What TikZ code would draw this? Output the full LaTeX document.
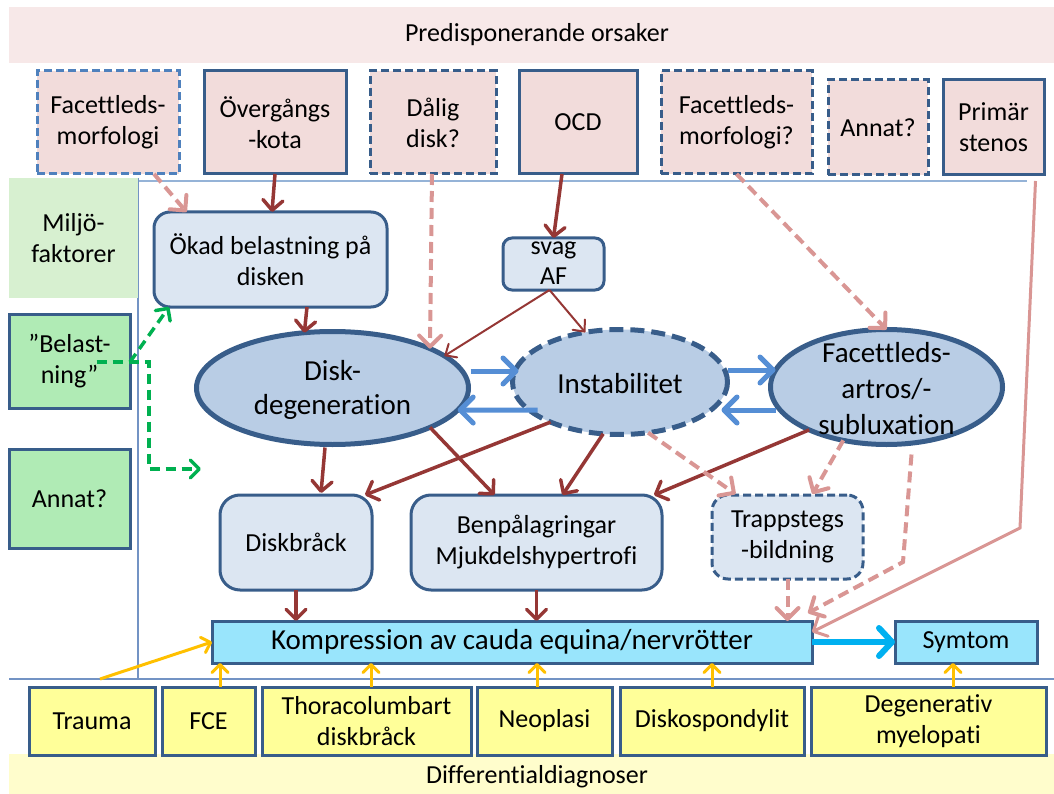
\documentclass[tikz,border=0pt]{standalone}
\usepackage{fontspec}
\setmainfont{Carlito}[Ligatures=NoCommon]
\usetikzlibrary{arrows.meta,shapes.geometric,calc}

\definecolor{bord}{HTML}{385D8A}
\definecolor{bordlt}{HTML}{4F81BD}
\definecolor{pinkband}{HTML}{F7E8E8}
\definecolor{pinkbox}{HTML}{F2DCDB}
\definecolor{greenlt}{HTML}{D7F0D0}
\definecolor{greenbox}{HTML}{B0EBB5}
\definecolor{bluebox}{HTML}{DCE6F2}
\definecolor{ellfill}{HTML}{B9CDE5}
\definecolor{cyanbox}{HTML}{99E5FC}
\definecolor{yelbox}{HTML}{FFFF99}
\definecolor{yelband}{HTML}{FFFDCC}
\definecolor{darkred}{HTML}{953735}
\definecolor{pinkarr}{HTML}{D99694}
\definecolor{bluearr}{HTML}{558ED5}
\definecolor{greenarr}{HTML}{00B050}
\definecolor{yelarr}{HTML}{FFC000}
\definecolor{cyanarr}{HTML}{00B0F0}
\definecolor{thinline}{HTML}{95B3D7}
\definecolor{thinline2}{HTML}{7393C4}

\tikzset{
  every node/.style={font=\fontsize{26}{31}\selectfont, align=center, inner sep=0pt, outer sep=0pt},
  bigtxt/.style={font=\fontsize{29}{35}\selectfont},
  topbox/.style={draw=bord, fill=pinkbox, line width=3pt},
  topdash/.style={topbox, dash pattern=on 8pt off 4pt},
  greenbx/.style={draw=bord, fill=greenbox, line width=3pt},
  rbox/.style={draw=bord, fill=bluebox, line width=3pt, rounded corners=16pt},
  ellbox/.style={ellipse, draw=bord, fill=ellfill, line width=5pt},
  cbox/.style={draw=bord, fill=cyanbox, line width=3pt},
  ybox/.style={draw=bord, fill=yelbox, line width=3pt},
  redarr/.style={draw=darkred, line width=3.5pt, -{Straight Barb[round,length=10pt,width=20pt]}},
  redthin/.style={draw=darkred, line width=2pt, -{Straight Barb[round,length=9pt,width=16pt]}},
  pinkdash/.style={draw=pinkarr, line width=4pt, dash pattern=on 11pt off 6pt, -{Straight Barb[round,length=11pt,width=22pt]}},
  pinksolid/.style={draw=pinkarr, line width=3pt, -{Straight Barb[round,length=11pt,width=22pt]}},
  bluearrow/.style={draw=bluearr, line width=5pt, -{Straight Barb[round,length=13pt,width=26pt]}},
  greendash/.style={draw=greenarr, line width=3.5pt, dash pattern=on 10pt off 6pt, -{Straight Barb[round,length=9pt,width=18pt]}},
  yelarrow/.style={draw=yelarr, line width=3pt, -{Straight Barb[round,length=8pt,width=16pt]}},
  cyanarrow/.style={draw=cyanarr, line width=6pt, -{Straight Barb[round,length=13pt,width=28pt]}},
}

\begin{document}
\begin{tikzpicture}[x=1pt,y=-1pt]
\useasboundingbox (0,0) rectangle (1054,794);

% bands
\node[fill=pinkband, minimum width=1045, minimum height=56.5] (predband) at (531.5,35.25) {};
\node (predtxt) at (537,35) {Predisponerande orsaker};
\node[fill=yelband, minimum width=1045, minimum height=41] (diffband) at (531.5,774.5) {};
\node (difftxt) at (537,777) {Differentialdiagnoser};

% thin lines
\draw[thinline, line width=1.5pt] (138,181) -- (1027,181);
\draw[thinline2, line width=1.2pt] (138,178) -- (138,679);
\draw[thinline2, line width=1.2pt] (9,679) -- (1054,679);

% top boxes
\node[topdash, draw=bordlt, minimum width=142, minimum height=103] (f1) at (108,122.5) {Facettleds-\\morfologi};
\node[topbox, minimum width=142, minimum height=103] (ov) at (275,122.5) {Övergångs\\-kota};
\node[topdash, minimum width=126, minimum height=103] (dal) at (433,122.5) {Dålig\\disk?};
\node[topbox, minimum width=118, minimum height=103] (ocd) at (578,122.5) {OCD};
\node[topdash, minimum width=151, minimum height=103] (f2) at (736.5,122.5) {Facettleds-\\morfologi?};
\node[topdash, minimum width=100, minimum height=95] (ann) at (878,127.5) {Annat?};
\node[topbox, minimum width=101, minimum height=95] (prim) at (993.5,127.5) {Primär\\stenos};

% left column
\node[fill=greenlt, minimum width=129, minimum height=120] (miljo) at (73.5,238) {Miljö-\\faktorer};
\node[greenbx, minimum width=121, minimum height=94] (belast) at (69.5,361) {”Belast-\\ning”};
\node[greenbx, minimum width=121, minimum height=99] (annat) at (69.5,498.5) {Annat?};

% middle
\node[rbox, minimum width=233, minimum height=95] (okad) at (270.5,259.5) {Ökad belastning på\\disken};
\node[rbox, rounded corners=9pt, minimum width=101, minimum height=52] (svag) at (553.5,264) {};
\node[font=\fontsize{26}{30}\selectfont] (svagtxt) at (553.5,263) {svag\\AF};

\node[ellbox, minimum width=272, minimum height=113] (disk) at (332.5,388) {};
\node[font=\fontsize{29}{34}\selectfont] (disktxt) at (332.5,390) {Disk-\\degeneration};
\node[ellbox, dash pattern=on 14pt off 7pt, minimum width=215, minimum height=105] (instab) at (620,382) {};
\node[bigtxt] (instabtxt) at (620,384) {Instabilitet};
\node[ellbox, minimum width=232, minimum height=115] (facet) at (886.5,387) {};
\node[font=\fontsize{29}{36}\selectfont] (facettxt) at (886.5,389) {Facettleds-\\artros/-\\subluxation};

\node[rbox, rounded corners=20pt, minimum width=152, minimum height=95] (diskbr) at (296,542.5) {Diskbråck};
\node[rbox, rounded corners=20pt, minimum width=251, minimum height=95] (benpal) at (536.5,542.5) {Benpålagringar\\Mjukdelshypertrofi};
\node[rbox, dash pattern=on 8pt off 4pt, minimum width=151, minimum height=84] (trapp) at (787.5,537) {Trappstegs\\-bildning};

\node[cbox, bigtxt, minimum width=600, minimum height=42] (komp) at (512,642) {Kompression av cauda equina/nervrötter};
\node[cbox, minimum width=142, minimum height=42] (symtom) at (966,642) {Symtom};

% bottom boxes
\node[ybox, minimum width=126, minimum height=68] (trauma) at (92,721) {Trauma};
\node[ybox, minimum width=93, minimum height=68] (fce) at (208.5,721) {FCE};
\node[ybox, minimum width=209, minimum height=68] (thor) at (366.5,721) {Thoracolumbart\\diskbråck};
\node[ybox, minimum width=135, minimum height=68] (neo) at (544.5,721) {Neoplasi};
\node[ybox, minimum width=184, minimum height=68] (disko) at (712,721) {Diskospondylit};
\node[ybox, minimum width=235, minimum height=68] (degen) at (928.5,721) {Degenerativ\\myelopati};

% coordinates for bends / free ends
\coordinate (primbend) at (1020,528);
\coordinate (facbend) at (903,562);
\coordinate (gsplit) at (149,362);
\coordinate (gdown) at (149,469);
\coordinate (gfree) at (201,469);

% arrows from top
\draw[pinkdash] ([shift={(46,0)}]f1.south) -- ([shift={(-84,0)}]okad.north);
\draw[redarr] (ov.south) -- ([shift={(-3,0)}]ov.south |- okad.north);
\draw[pinkdash] ([shift={(-1,0)}]dal.south) -- (disk.22);
\draw[redarr] ([shift={(-16,0)}]ocd.south) -- (svag.north);
\draw[pinkdash] (f2.south) -- (facet.north);
\draw[pinksolid] ([shift={(42,6)}]prim.south) -- (primbend) -- ([shift={(0,11)}]komp.north east);

% middle arrows
\draw[redarr] ([shift={(36.5,0)}]okad.south) -- (disk.117);
\draw[redthin] ([shift={(-4,0)}]svag.south) -- (disk.16);
\draw[redthin] ([shift={(-4,0)}]svag.south) -- (instab.125);

\draw[bluearrow] ([shift={(2,-17)}]disk.east) -- ([shift={(6,-11)}]instab.west);
\draw[bluearrow] ([shift={(25,28)}]instab.west) -- (disk.-10);
\draw[bluearrow] ([shift={(0,-12)}]instab.east) -- ([shift={(5,-17)}]facet.west);
\draw[bluearrow] ([shift={(5,23)}]facet.west) -- ([shift={(-6,28)}]instab.east);

% green
\draw[greendash] ([shift={(27,1)}]belast.center) -- (gsplit) -- (gdown) -- (gfree);
\draw[greendash] ([shift={(0,1)}]belast.east) -- ([shift={(15,0)}]okad.south west);

% to lower boxes
\draw[redarr] ([shift={(-7.5,3)}]disk.south) -- ([shift={(25,-2)}]diskbr.north);
\draw[redarr] (disk.-22) -- ([shift={(-42,0)}]benpal.north);
\draw[redarr] (instab.210) -- ([shift={(-7,0)}]diskbr.north east);
\draw[redarr] (instab.-108) -- ([shift={(26,0)}]benpal.north);
\draw[redarr] (facet.209) -- ([shift={(-8,0)}]benpal.north east);
\draw[pinkdash] (instab.-61) -- ([shift={(-52,-1)}]trapp.north);
\draw[pinkdash] (facet.-129) -- ([shift={(25,-1)}]trapp.north);
\draw[pinkdash] ([shift={(25,10)}]facet.south) -- (facbend) -- ([shift={(-4,-8)}]komp.north east);

% to Kompression
\draw[redarr] (diskbr.south) -- (diskbr.south |- komp.north);
\draw[redarr] (benpal.south) -- (benpal.south |- komp.north);
\draw[pinkdash] (trapp.south) -- (trapp.south |- komp.north);
\draw[cyanarrow] (komp.east) -- (symtom.west);

% yellow
\draw[yelarrow] ([shift={(8,-8)}]trauma.north) -- (komp.west);
\draw[yelarrow] ([shift={(11.5,0)}]fce.north) -- ([shift={(11.5,0)}]fce.north |- komp.south);
\draw[yelarrow] ([shift={(4.5,0)}]thor.north) -- ([shift={(4.5,0)}]thor.north |- komp.south);
\draw[yelarrow] ([shift={(-7.5,0)}]neo.north) -- ([shift={(-7.5,0)}]neo.north |- komp.south);
\draw[yelarrow] (disko.north) -- (disko.north |- komp.south);
\draw[yelarrow] ([shift={(24.5,0)}]degen.north) -- ([shift={(24.5,0)}]degen.north |- symtom.south);

\end{tikzpicture}
\end{document}
